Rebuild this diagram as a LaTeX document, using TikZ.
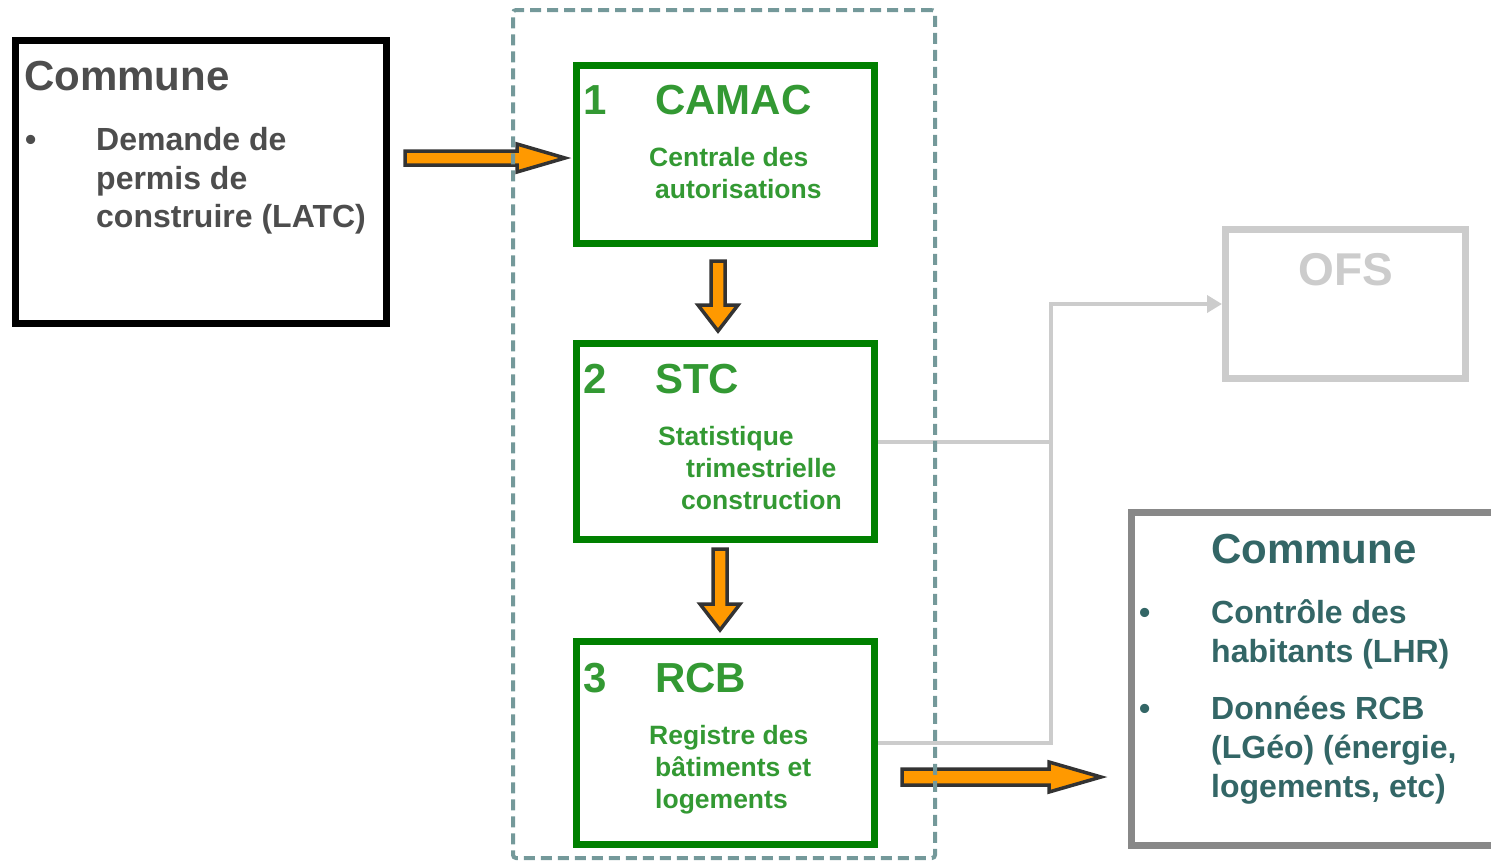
\documentclass[tikz,border=0pt]{standalone}
\usepackage{fontspec}
\setmainfont{Liberation Sans}
\usetikzlibrary{calc,arrows.meta}
\definecolor{boxgreen}{HTML}{008000}
\definecolor{txtgreen}{HTML}{339933}
\definecolor{txtgray}{HTML}{4D4D4D}
\definecolor{txtteal}{HTML}{336666}
\definecolor{dashcol}{HTML}{74999A}
\definecolor{lightgray}{HTML}{CCCCCC}
\definecolor{midgray}{HTML}{888888}
\definecolor{orng}{HTML}{FF9900}
\definecolor{outl}{HTML}{333333}
\tikzset{
  framebox/.style={draw, line width=7pt, rectangle, inner sep=0pt, fill=white},
  greenbox/.style={framebox, draw=boxgreen, minimum width=298pt},
  lbl/.style={anchor=base west, inner sep=0pt, font=\bfseries},
  big/.style={font=\bfseries\fontsize{42}{50}\selectfont},
  mid/.style={font=\bfseries\fontsize{32}{38}\selectfont},
  small/.style={font=\bfseries\fontsize{26.5}{32}\selectfont},
  blockarrow/.style={fill=orng, draw=outl, line width=3.5pt, line join=miter},
  feed/.style={draw=lightgray, line width=4pt},
}
\begin{document}
\begin{tikzpicture}[x=1pt,y=-1pt]
\useasboundingbox (0,0) rectangle (1491,860);
\clip (0,0) rectangle (1491,860);
% left commune
\node[framebox, draw=black, minimum width=371pt, minimum height=283pt] (c1) at (201,182) {};
\node[lbl, big, text=txtgray] (c1t) at (24,90) {Commune};
\node[lbl, mid, text=txtgray] (c1b) at (25,150) {•};
\node[lbl, mid, text=txtgray] (c1l1) at (96,150) {Demande de};
\node[lbl, mid, text=txtgray] (c1l2) at (96,189) {permis de};
\node[lbl, mid, text=txtgray] (c1l3) at (96,227) {construire (LATC)};
% green boxes
\node[greenbox, minimum height=178pt] (camac) at (725.5,154.5) {};
\node[greenbox, minimum height=196pt] (stc) at (725.5,441.5) {};
\node[greenbox, minimum height=203pt] (rcb) at (725.5,743) {};
\node[lbl, big, text=txtgreen] (n1) at (583,114) {1};
\node[lbl, big, text=txtgreen] (t1) at (655,114) {CAMAC};
\node[lbl, small, text=txtgreen] (s1a) at (649,166) {Centrale des};
\node[lbl, small, text=txtgreen] (s1b) at (655,198) {autorisations};
\node[lbl, big, text=txtgreen] (n2) at (583,393) {2};
\node[lbl, big, text=txtgreen] (t2) at (655,393) {STC};
\node[lbl, small, text=txtgreen] (s2a) at (658,445) {Statistique};
\node[lbl, small, text=txtgreen] (s2b) at (686,477) {trimestrielle};
\node[lbl, small, text=txtgreen] (s2c) at (681,509) {construction};
\node[lbl, big, text=txtgreen] (n3) at (583,692) {3};
\node[lbl, big, text=txtgreen] (t3) at (655,692) {RCB};
\node[lbl, small, text=txtgreen] (s3a) at (649,744) {Registre des};
\node[lbl, small, text=txtgreen] (s3b) at (655,776) {bâtiments et};
\node[lbl, small, text=txtgreen] (s3c) at (655,808) {logements};
% OFS
\node[framebox, draw=lightgray, minimum width=240pt, minimum height=149pt] (ofs) at (1345.5,304) {};
\node[anchor=base, inner sep=0pt, font=\bfseries\fontsize{46}{52}\selectfont, text=lightgray] (ofst) at (1345.5,285) {OFS};
% right commune
\node[framebox, draw=midgray, minimum width=400pt, minimum height=333pt] (c2) at (1331.5,679) {};
\node[lbl, big, text=txtteal] (c2t) at (1211,563) {Commune};
\node[lbl, mid, text=txtteal] (c2b1) at (1139,623) {•};
\node[lbl, mid, text=txtteal] (c2a1) at (1211,623) {Contrôle des};
\node[lbl, mid, text=txtteal] (c2a2) at (1211,662) {habitants (LHR)};
\node[lbl, mid, text=txtteal] (c2b2) at (1139,719) {•};
\node[lbl, mid, text=txtteal] (c2a3) at (1211,719) {Données RCB};
\node[lbl, mid, text=txtteal] (c2a4) at (1211,758) {(LGéo) (énergie,};
\node[lbl, mid, text=txtteal] (c2a5) at (1211,797) {logements, etc)};
% gray feeds to OFS
\coordinate (j) at (1051,304);
\draw[feed] (stc.east) -- (stc.east -| j);
\draw[feed, -{Triangle[length=15pt,width=17pt]}] (rcb.east) -| (j) -- (ofs.west);
% orange block arrows
\coordinate (a1s) at ($(c1.east)+(15,-24)$);
\coordinate (a1e) at ($(camac.west)+(-8,3.5)$);
\draw[blockarrow] ($(a1s)+(0,-7)$) -- ($(a1e)+(-48,-7)$) -- ($(a1e)+(-48,-14)$) -- (a1e)
  -- ($(a1e)+(-48,14)$) -- ($(a1e)+(-48,7)$) -- ($(a1s)+(0,7)$) -- cycle;
\coordinate (a2s) at ($(camac.south)+(-7.5,14)$);
\coordinate (a2e) at ($(stc.north)+(-7.5,-9)$);
\draw[blockarrow] ($(a2s)+(-7,0)$) -- ($(a2e)+(-7,-26)$) -- ($(a2e)+(-20,-26)$) -- (a2e)
  -- ($(a2e)+(20,-26)$) -- ($(a2e)+(7,-26)$) -- ($(a2s)+(7,0)$) -- cycle;
\coordinate (a3s) at ($(stc.south)+(-5.5,6)$);
\coordinate (a3e) at ($(rcb.north)+(-5.5,-8)$);
\draw[blockarrow] ($(a3s)+(-7,0)$) -- ($(a3e)+(-7,-26)$) -- ($(a3e)+(-20,-26)$) -- (a3e)
  -- ($(a3e)+(20,-26)$) -- ($(a3e)+(7,-26)$) -- ($(a3s)+(7,0)$) -- cycle;
\coordinate (a4s) at ($(rcb.east)+(24,34)$);
\coordinate (a4e) at ($(c2.west)+(-27,98)$);
\draw[blockarrow] ($(a4s)+(0,-8)$) -- ($(a4e)+(-52,-8)$) -- ($(a4e)+(-52,-15)$) -- (a4e)
  -- ($(a4e)+(-52,15)$) -- ($(a4e)+(-52,8)$) -- ($(a4s)+(0,8)$) -- cycle;
% dashed container (drawn on top)
\node[draw=dashcol, line width=4pt, dash pattern=on 11pt off 6pt, rounded corners=3pt,
      minimum width=422pt, minimum height=848pt, inner sep=0pt] (cont) at (724,434) {};
\end{tikzpicture}
\end{document}
